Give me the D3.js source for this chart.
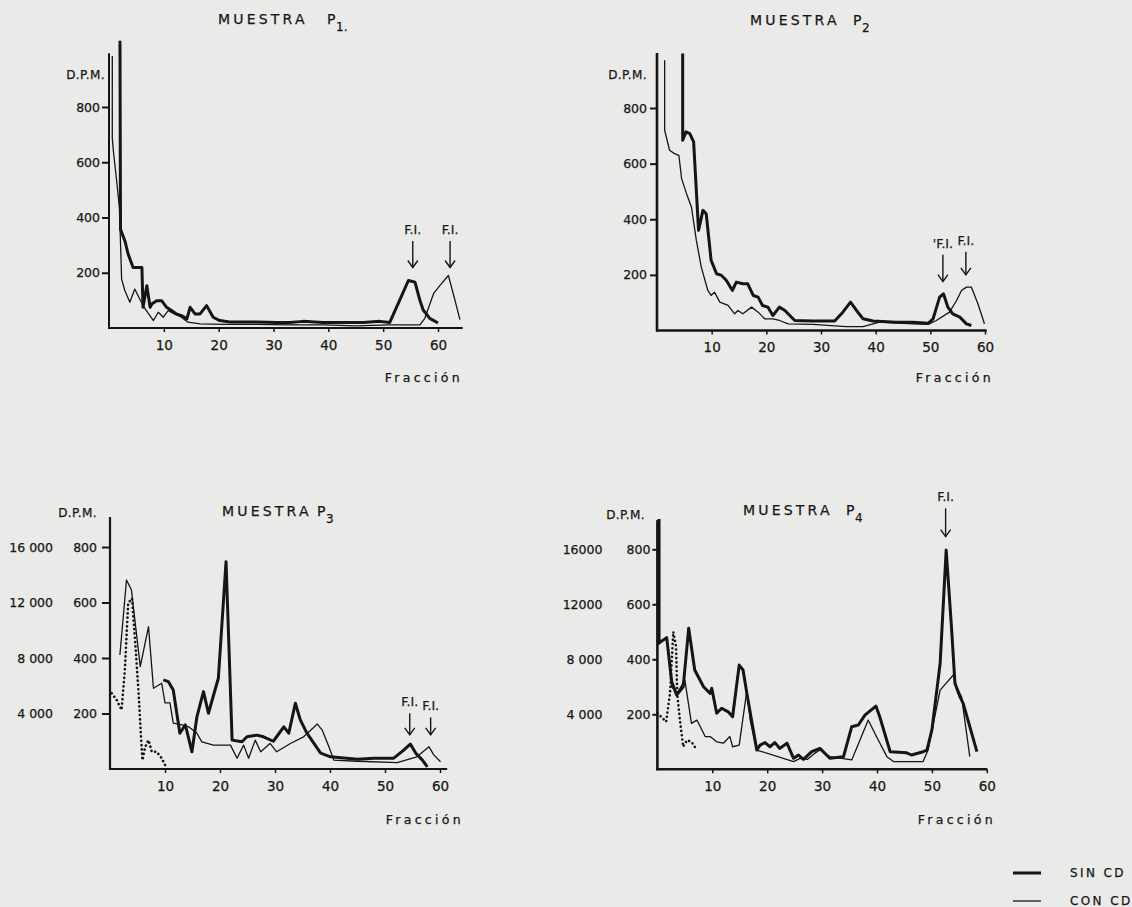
<!DOCTYPE html>
<html><head><meta charset="utf-8">
<script src="https://cdn.jsdelivr.net/npm/d3@7"></script>
<style>
html,body{margin:0;padding:0;background:#eaeae8;}
svg{display:block;}
text{font-family:"DejaVu Sans",sans-serif;fill:#161616;stroke:#161616;stroke-width:0.25px;}
</style></head><body>
<svg id="chart" width="1132" height="907"></svg>
<script>
// ---------------- data ----------------
const fractionTicks = [10, 20, 30, 40, 50, 60];
const dpmTicks = [200, 400, 600, 800];
const altTicks = [4000, 8000, 12000, 16000];
const p3AltTickLabels = ["4 000", "8 000", "12 000", "16 000"];
const p4AltTickLabels = ["4 000", "8 000", "12000", "16000"];
const seriesNames = ["SIN CD", "CON CD"];
const panelTitles = ["MUESTRA", "MUESTRA", "MUESTRA", "MUESTRA"];
const panelSubs = ["1.", "2", "3", "4"];

// [fraction, D.P.M.]
const p1Sin = [[2.0,1040],[2.1,357],[2.9,315],[3.5,267],[4.4,219],[6.0,219],[6.2,75],[6.9,153],[7.5,75],[7.8,87],[8.7,99],[9.6,99],[10.5,75],[11.4,63],[12.3,51],[13.2,45],[14.2,33],[14.8,75],[15.7,51],[16.6,51],[17.8,81],[19.0,39],[20.2,27],[22.0,22],[27,22],[30.6,20],[33,20],[35.4,24],[39,20],[46.4,20],[49.4,24],[51.2,20],[53,100],[54.6,172],[55.8,166],[56.7,100],[57.3,65],[58.5,35],[60,18]];
const p1Con = [[0.6,985],[0.6,688],[0.8,640],[1.4,532],[1.9,435],[2.3,177],[2.9,135],[3.8,93],[4.7,141],[5.6,105],[6.6,69],[8.1,27],[9.0,57],[9.9,39],[10.8,63],[12.0,50],[13.2,39],[14.4,21],[16.6,15],[21,13],[27,13],[33,11],[39,11],[45,8],[51,11],[56.7,11],[57.6,35],[59.2,125],[60.4,155],[61.9,190],[63.1,100],[64,30]];

const p2Sin = [[4.7,996],[4.7,684],[5.3,714],[6.0,708],[6.7,678],[7.6,360],[8.4,432],[9.0,420],[9.9,252],[10.9,204],[11.8,198],[12.7,180],[13.8,144],[14.5,174],[15.7,168],[16.6,168],[17.6,126],[18.5,120],[19.3,90],[20.3,84],[21.2,54],[22.4,84],[23.4,72],[25.2,36],[28.5,34],[32.5,34],[34,66],[35.4,102],[36.5,72],[37.7,42],[39.5,34],[43.8,30],[46.8,30],[49.6,26],[50.5,42],[51.7,120],[52.4,132],[53.2,84],[54.1,60],[55.4,48],[56.6,24],[57.5,18]];
const p2Con = [[1.4,972],[1.4,720],[2.3,648],[3.2,636],[4.0,630],[4.5,546],[5.4,492],[6.3,444],[7.2,324],[8.1,228],[9.3,144],[9.9,126],[10.5,138],[11.5,102],[13.0,90],[14.2,60],[14.8,72],[15.7,60],[17.3,84],[18.5,66],[19.7,42],[21.2,42],[22.4,36],[24.0,24],[28.5,22],[34.6,14],[37.7,14],[40.7,30],[46.8,24],[49.6,22],[51.1,36],[53.5,66],[54.8,108],[55.7,144],[56.6,156],[57.5,156],[58.7,96],[59.9,24]];

const p3Sin = [[9.7,321],[10.6,315],[11.5,285],[12.7,129],[13.7,159],[14.9,62],[15.8,188],[17.0,279],[17.9,201],[19.7,327],[21.1,747],[22.2,104],[24.0,98],[24.9,116],[26.7,122],[27.9,116],[29.7,100],[31.6,152],[32.5,129],[33.7,237],[34.6,177],[35.8,129],[38.3,57],[40.1,44],[45,35],[48,39],[51.6,39],[53.4,68],[54.6,90],[55.6,57],[56.8,32],[57.7,8]];
const p3Con = [[1.8,411],[3.0,681],[3.9,645],[5.5,369],[7.0,513],[7.9,291],[9.4,309],[10.0,238],[10.9,238],[11.5,165],[13.1,159],[14.3,152],[15.8,129],[16.7,98],[18.8,86],[21.9,86],[23.1,39],[24.3,86],[25.2,39],[26.4,104],[27.4,62],[29.1,92],[30.3,62],[32.8,92],[35.2,116],[37.7,162],[38.6,140],[39.8,80],[40.7,32],[45,28],[52.2,23],[55.8,44],[58,80],[58.9,50],[60.1,26]];
// dotted series, read on the outer scale (0 - 16 000)
const p3Dots = [[0.3,5460],[1.2,4980],[2.1,4260],[2.7,7140],[3.3,11940],[4.0,12300],[4.6,9060],[5.2,5460],[5.6,2580],[5.9,640],[6.4,1600],[7.0,2080],[7.6,1240],[8.5,1240],[9.4,780],[10.3,60]];

const p4Sin = [[0.3,910],[0.3,460],[1.7,478],[2.6,319],[3.5,270],[4.7,300],[5.7,513],[6.8,361],[8.4,300],[9.6,276],[9.9,295],[10.8,204],[11.7,222],[12.9,209],[13.7,191],[14.9,379],[15.6,361],[16.3,276],[18.1,70],[18.7,88],[19.6,97],[20.5,82],[21.4,97],[22.3,76],[23.6,95],[24.8,40],[25.7,52],[26.6,36],[28.1,64],[29.6,76],[31.4,40],[33.9,46],[35.4,155],[36.6,161],[37.8,197],[39.8,230],[40.5,191],[42.4,64],[45.4,60],[46.3,52],[48.4,64],[49.1,70],[50.0,143],[51.5,385],[52.6,797],[53.6,506],[54.2,313],[55.1,264],[55.7,240],[58.2,64]];
const p4Con = [[0.1,452],[1.7,482],[2.6,300],[3.6,276],[5.0,325],[6.2,167],[7.2,179],[8.7,119],[9.6,119],[10.8,100],[12.0,95],[13.2,119],[13.7,82],[14.9,88],[16.3,288],[16.9,179],[18.1,70],[24.8,28],[26.0,40],[27.3,36],[28.5,56],[29.6,70],[31.4,46],[35.4,34],[38.4,179],[39.9,119],[41.8,46],[43.0,28],[48.4,28],[49.3,70],[51.5,288],[53.9,343],[54.5,300],[55.4,264],[56.9,46]];
const p4Dots = [[0,4080],[1.6,3460],[2.3,5520],[2.9,10000],[3.4,8920],[3.6,5520],[4.1,3580],[4.7,1640],[5.4,2120],[6.2,2000],[7.2,1400]];

// F.I. markers: [fraction, arrow top D.P.M., arrow tip D.P.M., label]
const p1Markers = [[55.4,315,219,"F.I."],[62.2,315,219,"F.I."]];
const p2Markers = [[52.3,272,176,"'F.I."],[56.5,283,200,"F.I."]];
const p3Markers = [[54.5,201,123,"F.I."],[58.3,186,123,"F.I."]];
const p4Markers = [[52.5,949,846,"F.I."]];

// ---------------- layout ----------------
const svg = d3.select("#chart");
const ink = "#151515";

const panels = [
  {x0:109, x60:438, y0:328, y800:107, xEnd:64.5, yTop:995, sin:p1Sin, con:p1Con, dots:null, markers:p1Markers,
   tick:7, pad:2, axisW:2, title:[218,24], pX:327, dpm:[105,79], fr:[463,382], alt:null},
  {x0:657, x60:985, y0:330.5, y800:108, xEnd:60.3, yTop:998, sin:p2Sin, con:p2Con, dots:null, markers:p2Markers,
   tick:7, pad:3, axisW:2.6, title:[750,25], pX:853, dpm:[647,79], fr:[994,382], alt:null},
  {x0:110, x60:440, y0:769, y800:547, xEnd:61.3, yTop:908, sin:p3Sin, con:p3Con, dots:p3Dots, markers:p3Markers,
   tick:8, pad:5, axisW:2.2, title:[222,516], pX:317, dpm:[97,517], fr:[464,824], alt:{labels:p3AltTickLabels, off:57}},
  {x0:657.4, x60:986.8, y0:769.3, y800:549.3, xEnd:60.1, yTop:906, sin:p4Sin, con:p4Con, dots:p4Dots, markers:p4Markers,
   tick:5, pad:2, axisW:2.6, title:[743,515], pX:846, dpm:[645,519], fr:[996,824], alt:{labels:p4AltTickLabels, off:55}}
];

panels.forEach((p, i) => {
  const x = d3.scaleLinear().domain([0, 60]).range([p.x0, p.x60]);
  const y = d3.scaleLinear().domain([0, 800]).range([p.y0, p.y800]);
  const yAlt = d3.scaleLinear().domain([0, 16000]).range([p.y0, p.y800]);
  const g = svg.append("g");

  // axis lines
  g.append("line").attr("x1", x(0)).attr("x2", x(0)).attr("y1", y(0) + 1).attr("y2", y(p.yTop))
    .attr("stroke", ink).attr("stroke-width", p.axisW);
  g.append("line").attr("x1", x(0) - 1).attr("x2", x(p.xEnd)).attr("y1", y(0)).attr("y2", y(0))
    .attr("stroke", ink).attr("stroke-width", p.axisW);

  // x axis ticks/labels
  const xa = g.append("g").attr("transform", `translate(0,${y(0)})`)
    .call(d3.axisBottom(x).tickValues(fractionTicks).tickSize(4).tickPadding(8).tickFormat(d3.format("d")));
  xa.select(".domain").remove();
  xa.selectAll("line").attr("stroke", ink).attr("stroke-width", 1.5);
  xa.selectAll("text").attr("font-size", 13.5).attr("fill", ink).attr("font-family", "DejaVu Sans");

  // y axis ticks/labels
  const ya = g.append("g").attr("transform", `translate(${x(0)},0)`)
    .call(d3.axisLeft(y).tickValues(dpmTicks).tickSize(p.tick).tickPadding(p.pad).tickFormat(d3.format("d")));
  ya.select(".domain").remove();
  ya.selectAll("line").attr("stroke", ink).attr("stroke-width", 2);
  ya.selectAll("text").attr("font-size", 12.5).attr("fill", ink).attr("font-family", "DejaVu Sans");

  if (p.alt) {
    const aa = g.append("g").attr("transform", `translate(${x(0) - p.alt.off},0)`)
      .call(d3.axisLeft(yAlt).tickValues(altTicks).tickSize(0).tickPadding(0)
        .tickFormat((d, k) => p.alt.labels[k]));
    aa.select(".domain").remove();
    aa.selectAll("text").attr("font-size", 12.5).attr("fill", ink).attr("font-family", "DejaVu Sans");
  }

  // series
  const line = d3.line().x(d => x(d[0])).y(d => y(d[1]));
  const lineAlt = d3.line().x(d => x(d[0])).y(d => yAlt(d[1]));
  g.append("path").attr("d", line(p.con)).attr("fill", "none").attr("stroke", ink)
    .attr("stroke-width", 1.3).attr("stroke-linejoin", "round");
  g.append("path").attr("d", line(p.sin)).attr("fill", "none").attr("stroke", ink)
    .attr("stroke-width", 3).attr("stroke-linejoin", "round");
  if (p.dots) {
    g.append("path").attr("d", lineAlt(p.dots)).attr("fill", "none").attr("stroke", ink)
      .attr("stroke-width", 2.6).attr("stroke-linecap", "round").attr("stroke-dasharray", "0.1,4.2");
  }

  // markers
  p.markers.forEach(m => {
    const mx = x(m[0]), yt = y(m[1]), yb = y(m[2]);
    g.append("line").attr("x1", mx).attr("x2", mx).attr("y1", yt).attr("y2", yb)
      .attr("stroke", ink).attr("stroke-width", 1.4);
    g.append("path").attr("d", `M${mx - 5},${yb - 7}L${mx},${yb}L${mx + 5},${yb - 7}`)
      .attr("fill", "none").attr("stroke", ink).attr("stroke-width", 1.4);
    g.append("text").attr("x", mx).attr("y", yt - 7).attr("text-anchor", "middle")
      .attr("font-size", 12.5).text(m[3]);
  });

  // labels
  g.append("text").attr("x", p.title[0]).attr("y", p.title[1]).attr("font-size", 14)
    .attr("letter-spacing", 3.2).text(panelTitles[i]);
  g.append("text").attr("x", p.pX).attr("y", p.title[1]).attr("font-size", 14).text("P");
  g.append("text").attr("x", p.pX + 9).attr("y", p.title[1] + 7).attr("font-size", 12).text(panelSubs[i]);
  g.append("text").attr("x", p.dpm[0]).attr("y", p.dpm[1]).attr("text-anchor", "end")
    .attr("font-size", 12).attr("letter-spacing", 0.4).text("D.P.M.");
  g.append("text").attr("x", p.fr[0]).attr("y", p.fr[1]).attr("text-anchor", "end")
    .attr("font-size", 12.5).attr("letter-spacing", 3.3).text("Fracción");
});

// legend
const legendY = [873, 901];
seriesNames.forEach((name, k) => {
  svg.append("line").attr("x1", 1013).attr("x2", 1041).attr("y1", legendY[k]).attr("y2", legendY[k])
    .attr("stroke", ink).attr("stroke-width", k === 0 ? 3 : 1.3);
  svg.append("text").attr("x", 1070).attr("y", legendY[k] + 4).attr("font-size", 12)
    .attr("letter-spacing", 2.4).text(name);
});
</script>
</body></html>
